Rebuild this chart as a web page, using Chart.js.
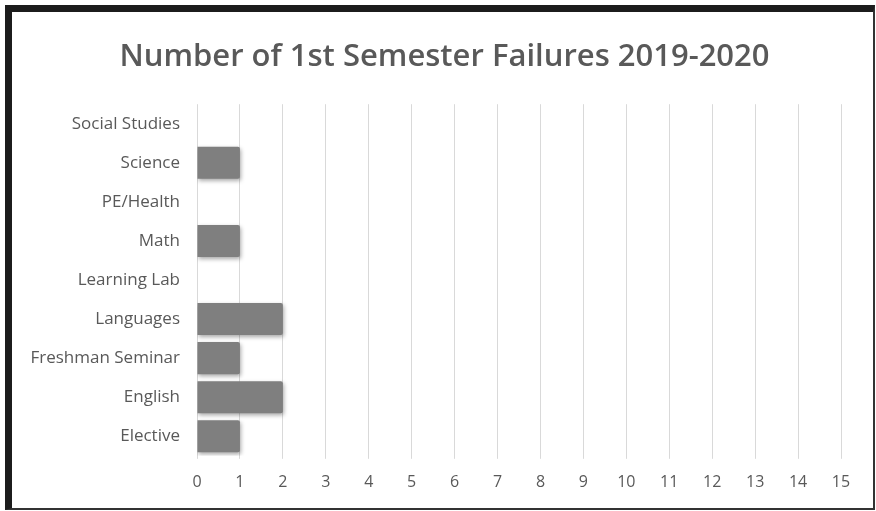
<!DOCTYPE html>
<html>
<head>
<meta charset="utf-8">
<script src="https://cdn.jsdelivr.net/npm/chart.js@4/dist/chart.umd.min.js"></script>
<style>
  body { margin: 0; background: #fff; }
  #frame {
    position: absolute; left: 5px; top: 5px;
    width: 861px; height: 496px;
    border-left: 7px solid #1c1c1c; border-top: 7px solid #1c1c1c;
    border-right: 2px solid #333; border-bottom: 2px solid #333;
    background: #fff;
  }
</style>
</head>
<body>
<div id="frame"><canvas id="failChart" width="861" height="496"></canvas></div>
<script>
// categories listed top to bottom as they appear
var subjects = ['Social Studies', 'Science', 'PE/Health', 'Math', 'Learning Lab', 'Languages', 'Freshman Seminar', 'English', 'Elective'];
var failures = [0, 1, 0, 1, 0, 2, 1, 2, 1];
var xMin = 0;
var xMax = 15;

// soft drop shadow under the bars, like the Excel original
var barShadow = {
    id: 'barShadow',
    beforeDatasetsDraw: function(chart) {
        var ctx = chart.ctx;
        ctx.save();
        ctx.shadowColor = 'rgba(0,0,0,0.35)';
        ctx.shadowBlur = 4;
        ctx.shadowOffsetX = 1;
        ctx.shadowOffsetY = 2;
    },
    afterDatasetsDraw: function(chart) {
        chart.ctx.restore();
    }
};

var ctx = document.getElementById('failChart').getContext('2d');
var chart1 = new Chart(ctx, {
    type: 'bar',
    data: {
        labels: subjects,
        datasets: [{
            label: 'Failures',
            data: failures,
            backgroundColor: '#7f7f7f',
            borderWidth: 0,
            borderRadius: 2,
            barPercentage: 0.82,
            categoryPercentage: 1
        }]
    },
    plugins: [barShadow],
    options: {
        indexAxis: 'y',
        responsive: false,
        animation: false,
        devicePixelRatio: 1,
        layout: {
            padding: { left: 4, right: 0, top: 0, bottom: 2 }
        },
        plugins: {
            legend: { display: false },
            tooltip: { enabled: false },
            title: {
                display: true,
                text: 'Number of 1st Semester Failures 2019-2020',
                color: '#595959',
                font: { family: 'Open Sans', size: 31, weight: '600' },
                padding: { top: 27, bottom: 28 }
            }
        },
        scales: {
            x: {
                min: xMin,
                max: xMax,
                ticks: {
                    stepSize: 1,
                    color: '#595959',
                    padding: 14,
                    font: { family: 'Open Sans', size: 16 }
                },
                grid: {
                    color: '#d9d9d9',
                    lineWidth: 1,
                    tickLength: 3
                },
                border: { display: false },
                // leave room on the right of the plot like the original
                afterFit: function(scale) { scale.paddingRight = 32; }
            },
            y: {
                grid: { display: false, drawTicks: false },
                border: { display: false },
                ticks: {
                    color: '#595959',
                    padding: 17,
                    font: { family: 'Open Sans', size: 17 }
                },
                afterFit: function(scale) { scale.width = 181; }
            }
        }
    }
});
</script>
</body>
</html>
